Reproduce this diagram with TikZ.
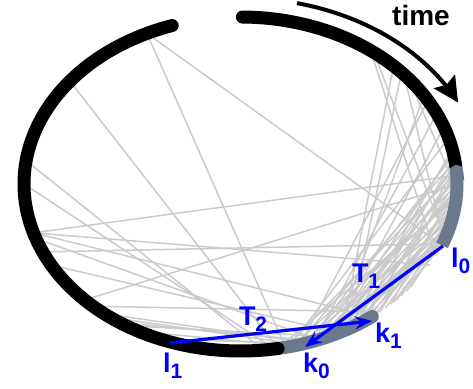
\documentclass[tikz,border=0pt]{standalone}
\usepackage{fontspec}
\setmainfont{Liberation Sans}
\usetikzlibrary{arrows.meta}
\definecolor{chordgray}{RGB}{202,202,202}
\definecolor{slate}{RGB}{108,120,140}
\definecolor{myblue}{RGB}{0,0,255}
\newcommand\lsub[1]{\raisebox{-6pt}{\fontsize{21}{21}\selectfont #1}}
\begin{document}
\begin{tikzpicture}[x=1pt,y=-1pt,
  chord/.style={draw=chordgray,line width=1.5pt},
  blackarc/.style={draw=black,line width=13pt,line cap=round},
  grayarc/.style={draw=slate,line width=13pt},
  bluearrow/.style={draw=myblue,line width=3.2pt,-{Stealth[length=17pt,width=13pt,inset=6pt]}},
  lab/.style={text=myblue,font=\bfseries\fontsize{27}{27}\selectfont,anchor=base west,inner sep=0pt,outer sep=0pt},
  timearrow/.style={draw=black,line width=4pt,-{Stealth[length=25pt,width=25pt,inset=4pt]}}]
\useasboundingbox (0,0) rectangle (473,388);
% chords
\foreach \a/\b in {115.6/-78, 115.6/-21.5, 142/-80, 172/-84, 180/-81, 197/3, 204/-21,
  224/0, 197/-52.6, 209/-63, 227/-50, 199/-69, 231/-72, 233/-74, 236/-70, 242/-76,
  248/-73, 238/-66, 197/-29,
  53/-25.5, 52/-19, 41/-20, 39/-2, 30/-74, 32/-64, 42/-60, 45/-62,
  10/-72, 8/-75, 6/-70, 4/-78, 2/-68, 0/-73, -2/-66, -4/-76, -6/-64, -8/-70, -10/-62,
  -12/-74, -14/-67, -16/-60, -18/-71, -5/-80, 3/-65, -9/-58, -13/-63, -20/-69,
  -3/-50, 6/-55, -11/-48, 1/-57, 12/-60, -7/-54,
  -15/-45, -8/-42, 0/-46, -19/-40, 5/-50, -12/-52, 9/-58, -1/-61, 11/-66, 7/-64,
  -17/-56, 25/-70, 20/-65, 16/-77, -21/-44, -14/-38}
  \draw[chord] ({240.5+216.5*cos(\a)},{184-167*sin(\a)}) -- ({240.5+216.5*cos(\b)},{184-167*sin(\b)});
% arcs
\draw[blackarc] plot[domain=89.5:6,samples=90] ({240.5+216.5*cos(\x)},{184-167*sin(\x)});
\draw[grayarc,{Round Cap[]}-] plot[domain=6.5:-21.5,samples=40] ({240.5+216.5*cos(\x)},{184-167*sin(\x)});
\draw[grayarc,line cap=round] plot[domain=-52.5:-80,samples=40] ({240.5+216.5*cos(\x)},{184-167*sin(\x)});
\draw[blackarc] plot[domain=-80:-251.6,samples=160] ({240.5+216.5*cos(\x)},{184-167*sin(\x)});
% time arrow
\draw[timearrow] plot[domain=76.5:26,samples=60] ({240.5+242*cos(\x)},{184-186*sin(\x)});
\node[anchor=base west,inner sep=0pt,font=\bfseries\fontsize{28}{28}\selectfont] (time) at (392,25) {time};
% blue arrows
\coordinate (l0) at (443,246);
\coordinate (k0) at (305,347);
\coordinate (l1) at (170,343);
\coordinate (k1) at (372,321);
\draw[bluearrow] (l0) -- (k0);
\draw[bluearrow] (l1) -- (k1);
% labels
\node[lab] (lzero) at (451,267) {l\lsub{0}};
\node[lab] (tone) at (352,282) {T\lsub{1}};
\node[lab] (kone) at (375,342) {k\lsub{1}};
\node[lab] (kzero) at (303,372) {k\lsub{0}};
\node[lab] (ttwo) at (239,325) {T\lsub{2}};
\node[lab] (lone) at (163,372) {l\lsub{1}};
\end{tikzpicture}
\end{document}
